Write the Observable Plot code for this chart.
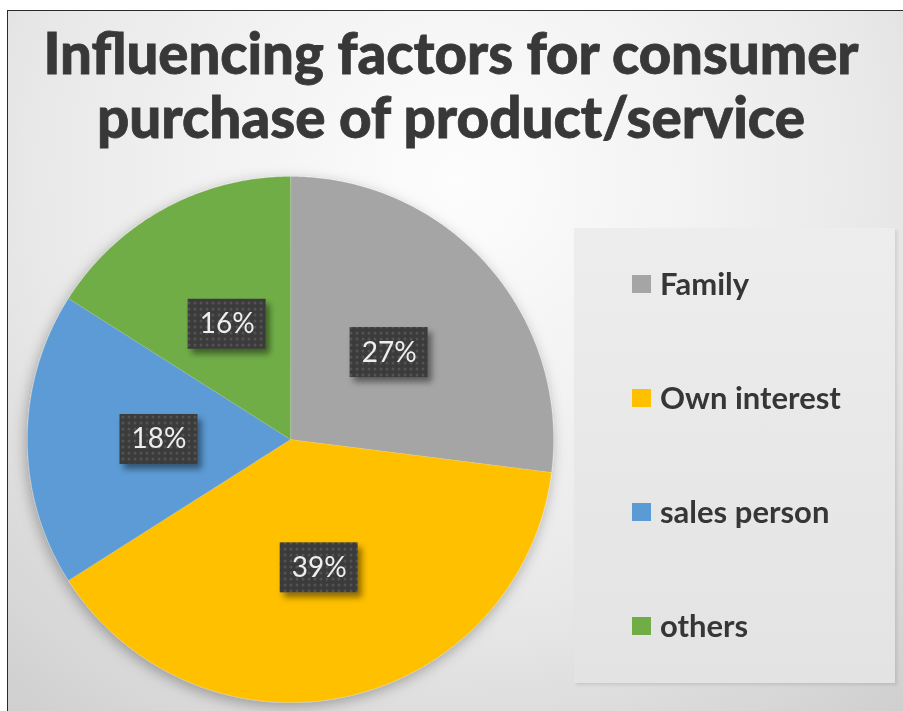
<!DOCTYPE html>
<html>
<head>
<meta charset="utf-8">
<script src="https://cdn.jsdelivr.net/npm/d3@7"></script>
<script src="https://cdn.jsdelivr.net/npm/@observablehq/plot@0.6"></script>
<style>
  html, body { margin: 0; padding: 0; background: #fff; }
  #frame { position: relative; width: 903px; height: 711px; overflow: hidden; font-family: Lato, "Open Sans", sans-serif; }
  #panel {
    position: absolute; left: 7px; top: 10px; right: -2px; bottom: -2px;
    border-left: 1.5px solid #2a2a2a; border-top: 1.5px solid #2a2a2a;
    background: radial-gradient(circle farthest-corner at 50% 24%, #fdfdfd 0%, #f2f2f2 35%, #e8e8e8 62%, #dadada 82%, #cfcfcf 100%);
  }
  #legendBox {
    position: absolute; left: 574px; top: 228px; width: 321px; height: 455px;
    background: linear-gradient(#ededed, #e3e3e3);
    box-shadow: 2px 2px 3px rgba(0,0,0,0.10);
  }
  #chart, #title, #legend { position: absolute; left: 0; top: 0; }
  svg { overflow: visible; }
</style>
</head>
<body>
<div id="frame">
  <div id="panel"></div>
  <div id="legendBox"></div>
  <div id="chart"></div>
  <svg id="title" width="903" height="180"></svg>
  <svg id="legend" width="903" height="711"></svg>
</div>
<script>
// Shares of responses per influencing factor (percent)
const categories = ["Family", "Own interest", "sales person", "others"];
const shares = [27, 39, 18, 16];
const colors = ["#a5a5a5", "#ffc000", "#5b9bd5", "#70ad47"];
const titleLines = ["Influencing factors for consumer", "purchase of product/service"];

// Slice angles, clockwise from 12 o'clock
const arcs = d3.pie().sort(null).startAngle(0).endAngle(2 * Math.PI)(shares);

// Outline of each slice in unit-circle coordinates (y up)
const outline = [];
arcs.forEach((a, i) => {
  const key = categories[i];
  outline.push({key, x: 0, y: 0});
  const n = Math.ceil((a.endAngle - a.startAngle) / (Math.PI / 360));
  for (let k = 0; k <= n; k++) {
    const t = a.startAngle + (a.endAngle - a.startAngle) * k / n;
    outline.push({key, x: Math.sin(t), y: Math.cos(t)});
  }
});

// Data labels sit halfway out along each slice's mid-angle
const labels = arcs.map((a, i) => {
  const mid = (a.startAngle + a.endAngle) / 2;
  return {key: categories[i], value: shares[i], x: 0.5 * Math.sin(mid), y: 0.5 * Math.cos(mid)};
});

const ns = "http://www.w3.org/2000/svg";
const boxW = 78, boxH = 50;

const chart = Plot.plot({
  width: 903,
  height: 711,
  marginLeft: 27,
  marginRight: 350,
  marginTop: 176,
  marginBottom: 9,
  x: {domain: [-1, 1], axis: null},
  y: {domain: [-1, 1], axis: null},
  color: {domain: categories, range: colors},
  style: {background: "transparent", overflow: "visible"},
  marks: [
    Plot.line(outline, {
      x: "x", y: "y", z: "key", fill: "key",
      stroke: "#ffffff", strokeOpacity: 0.15, strokeWidth: 1,
      curve: "linear-closed",
      render(index, scales, values, dimensions, context, next) {
        const g = next(index, scales, values, dimensions, context);
        g.setAttribute("filter", "url(#pieShadow)");
        return g;
      }
    }),
    Plot.text(labels, {
      x: "x", y: "y",
      text: d => d.value + "%",
      fill: "#eeeeee",
      fontSize: 28,
      fontFamily: "Lato, 'Open Sans', sans-serif",
      render(index, scales, values, dimensions, context, next) {
        const g = next(index, scales, values, dimensions, context);
        g.setAttribute("filter", "url(#softText)");
        const boxes = document.createElementNS(ns, "g");
        boxes.setAttribute("filter", "url(#boxShadow)");
        for (const i of index) {
          const r = document.createElementNS(ns, "rect");
          r.setAttribute("x", values.x[i] - boxW / 2);
          r.setAttribute("y", values.y[i] - boxH / 2);
          r.setAttribute("width", boxW);
          r.setAttribute("height", boxH);
          r.setAttribute("fill", "url(#dots)");
          boxes.appendChild(r);
        }
        const wrap = document.createElementNS(ns, "g");
        wrap.appendChild(boxes);
        wrap.appendChild(g);
        return wrap;
      }
    })
  ]
});

// Shadow filters and the dotted texture of the label boxes
const defs = document.createElementNS(ns, "defs");
defs.innerHTML = `
  <filter id="pieShadow" x="-20%" y="-20%" width="140%" height="140%">
    <feDropShadow dx="-2" dy="4" stdDeviation="7" flood-color="#000" flood-opacity="0.30"/>
  </filter>
  <filter id="boxShadow" x="-30%" y="-30%" width="160%" height="170%">
    <feDropShadow dx="4" dy="5" stdDeviation="3" flood-color="#000" flood-opacity="0.45"/>
  </filter>
  <filter id="softText" x="-10%" y="-20%" width="120%" height="140%">
    <feGaussianBlur stdDeviation="0.4"/>
  </filter>
  <pattern id="dots" width="6" height="6" patternUnits="userSpaceOnUse">
    <rect width="6" height="6" fill="#3b3b3b"/>
    <circle cx="3" cy="3" r="1.5" fill="#525252"/>
  </pattern>`;
chart.insertBefore(defs, chart.firstChild);
document.getElementById("chart").appendChild(chart);

// Title, two centered lines
const title = document.getElementById("title");
const titleWidths = [815, 708];
const titleBaselines = [74, 138];
titleLines.forEach((line, i) => {
  const t = document.createElementNS(ns, "text");
  t.textContent = line;
  t.setAttribute("x", 451);
  t.setAttribute("y", titleBaselines[i]);
  t.setAttribute("text-anchor", "middle");
  t.setAttribute("font-family", "Lato, 'Open Sans', sans-serif");
  t.setAttribute("font-weight", "900");
  t.setAttribute("font-size", 58);
  t.setAttribute("fill", "#383838");
  t.setAttribute("stroke", "#383838");
  t.setAttribute("stroke-width", 0.8);
  t.setAttribute("textLength", titleWidths[i]);
  t.setAttribute("lengthAdjust", "spacingAndGlyphs");
  title.appendChild(t);
});

// Legend, colors taken from the chart's color scale
const color = chart.scale("color");
const legend = document.getElementById("legend");
const legendCenters = [284, 398, 512, 626];
categories.forEach((c, i) => {
  const sw = document.createElementNS(ns, "rect");
  sw.setAttribute("x", 632);
  sw.setAttribute("y", legendCenters[i] - 9);
  sw.setAttribute("width", 19);
  sw.setAttribute("height", 18);
  sw.setAttribute("fill", color.apply(c));
  legend.appendChild(sw);
  const t = document.createElementNS(ns, "text");
  t.textContent = c;
  t.setAttribute("x", 660);
  t.setAttribute("y", legendCenters[i] + 11);
  t.setAttribute("font-family", "Lato, 'Open Sans', sans-serif");
  t.setAttribute("font-weight", "700");
  t.setAttribute("font-size", 31);
  t.setAttribute("fill", "#363636");
  legend.appendChild(t);
});
</script>
</body>
</html>
